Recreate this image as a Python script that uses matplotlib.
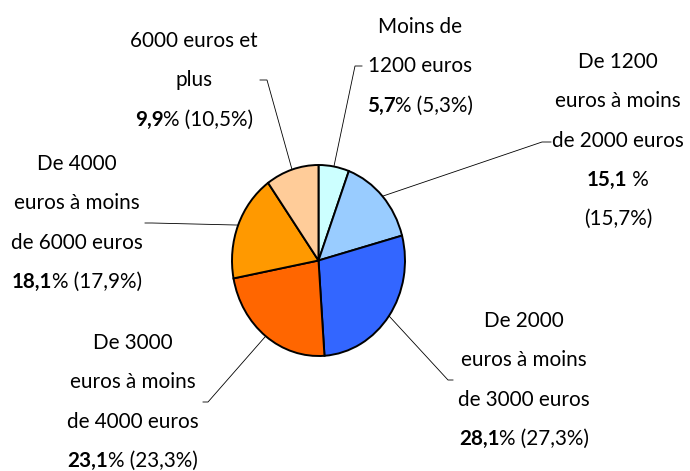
import numpy as np
import matplotlib
matplotlib.use("Agg")
import matplotlib.pyplot as plt

# Income brackets, share of households (bold) and previous share (in brackets)
categories = [
    ["Moins de", "1200 euros"],
    ["De 1200", "euros à moins", "de 2000 euros"],
    ["De 2000", "euros à moins", "de 3000 euros"],
    ["De 3000", "euros à moins", "de 4000 euros"],
    ["De 4000", "euros à moins", "de 6000 euros"],
    ["6000 euros et", "plus"],
]
shares = [5.7, 15.1, 28.1, 23.1, 18.1, 9.9]
previous = [5.3, 15.7, 27.3, 23.3, 17.9, 10.5]
colors = ["#CCFFFF", "#99CCFF", "#3366FF", "#FF6600", "#FF9900", "#FFCC99"]

# label layout in pixels: centre x, first baseline, elbow of the leader line
label_x = [420, 618, 524, 133, 77, 194]
label_y = [33, 68, 327, 349, 170, 47]
elbow = [(355, 66), (542, 142), (448, 380), (208, 402), (152, 223), (267, 80)]
tick = [7, 9, 5, -5, -7, -7]
wrap_value = [False, True, False, False, False, False]
line_step = 39.3

W, H = 690, 471
plt.rcParams['font.family'] = ['Lato', 'DejaVu Sans']
FS = 14.9


def fmt(v):
    return ("%.1f" % v).replace(".", ",")


def value_line(ax, renderer, cx, y, bold, rest):
    # Draws a line with a bold start, centred on cx.
    tb = ax.text(0, y, bold, fontsize=FS, fontweight='bold', ha='left', va='baseline')
    tr = ax.text(0, y, rest, fontsize=FS, ha='left', va='baseline')
    wb = tb.get_window_extent(renderer).width
    wr = tr.get_window_extent(renderer).width
    x0 = cx - (wb + wr) / 2
    tb.set_x(x0)
    tr.set_x(x0 + wb)


fig = plt.figure(figsize=(W / 100, H / 100), dpi=100)

# overlay axes in pixel units for labels and leader lines
ax = fig.add_axes([0, 0, 1, 1])
ax.set_xlim(0, W)
ax.set_ylim(H, 0)
ax.axis('off')

# pie sits in its own axes, slightly taller than wide
px0, py0, px1, py1 = 232, 165, 405, 356
axp = fig.add_axes([px0 / W, (H - py1) / H, (px1 - px0) / W, (py1 - py0) / H])
wedges, _ = axp.pie(shares, colors=colors, startangle=90, counterclock=False,
                    wedgeprops=dict(edgecolor='black', linewidth=1.4))
axp.set_aspect('auto')
axp.set_xlim(-1.0, 1.0)
axp.set_ylim(-1.0, 1.0)

renderer = fig.canvas.get_renderer()
to_pix = axp.transData + ax.transData.inverted()

for i, w in enumerate(wedges):
    # leader line from the middle of the wedge edge
    ang = np.deg2rad((w.theta1 + w.theta2) / 2)
    sx, sy = to_pix.transform((np.cos(ang), np.sin(ang)))
    ex, ey = elbow[i]
    ax.plot([sx, ex, ex + tick[i]], [sy, ey, ey], color='black', lw=0.6)

    # text lines
    y = label_y[i]
    for line in categories[i]:
        ax.text(label_x[i], y, line, fontsize=FS, ha='center', va='baseline')
        y += line_step
    if wrap_value[i]:
        value_line(ax, renderer, label_x[i], y, fmt(shares[i]), " %")
        y += line_step
        ax.text(label_x[i], y, "(%s%%)" % fmt(previous[i]), fontsize=FS,
                ha='center', va='baseline')
    else:
        value_line(ax, renderer, label_x[i], y, fmt(shares[i]),
                   "% (" + fmt(previous[i]) + "%)")

fig.savefig("out.png", dpi=100)
